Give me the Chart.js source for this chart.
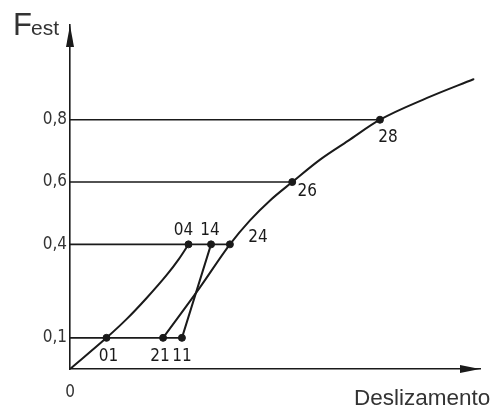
<!DOCTYPE html>
<html>
<head>
<meta charset="utf-8">
<script src="https://cdn.jsdelivr.net/npm/chart.js@4"></script>
<style>
  html, body { margin: 0; padding: 0; background: #fff; }
  #wrap { width: 493px; height: 410px; position: relative; }
</style>
</head>
<body>
<div id="wrap"><canvas id="slipChart"></canvas></div>
<script>
// rising branch 0 -> 01 -> 04
const curveAX = [0, 8.9, 13.8, 18.7, 23.6, 26.5, 28.9];
const curveAY = [0, 0.1, 0.16, 0.228, 0.302, 0.352, 0.4];
// main branch 21 -> 24 -> 26 -> 28 -> end
const curveBX = [22.7, 31.7, 39.0, 43.9, 48.8, 54.2, 61.0, 67.8, 75.6, 87.1, 98.4];
const curveBY = [0.1, 0.262, 0.4, 0.477, 0.541, 0.6, 0.672, 0.732, 0.8, 0.870, 0.930];
// unloading line 14 -> 11
const backX = [27.3, 34.4];
const backY = [0.1, 0.4];
// horizontal load levels and where they stop
const levels = [0.1, 0.4, 0.6, 0.8];
const levelEnds = [27.3, 39.0, 54.2, 75.6];
// marked points
const markNames = ['01', '21', '11', '04', '14', '24', '26', '28'];
const markX = [8.9, 22.7, 27.3, 28.9, 34.4, 39.0, 54.2, 75.6];
const markY = [0.1, 0.1, 0.1, 0.4, 0.4, 0.4, 0.6, 0.8];
const yTicks = [0.1, 0.4, 0.6, 0.8];
const xTicks = [0];

const ink = '#1a1a1a';
const digitFont = '"DejaVu Sans Condensed", "DejaVu Sans"';
const toPts = (xs, ys) => xs.map((x, i) => ({ x: x, y: ys[i] }));

const datasets = [];
levels.forEach((lv, i) => {
    datasets.push({
        data: [{ x: 0, y: lv }, { x: levelEnds[i], y: lv }],
        showLine: true, borderColor: ink, borderWidth: 1.6, pointRadius: 0, tension: 0
    });
});
datasets.push({
    data: toPts(curveAX, curveAY),
    showLine: true, borderColor: ink, borderWidth: 2, pointRadius: 0,
    cubicInterpolationMode: 'monotone'
});
datasets.push({
    data: toPts(curveBX, curveBY),
    showLine: true, borderColor: ink, borderWidth: 2, pointRadius: 0,
    cubicInterpolationMode: 'monotone'
});
datasets.push({
    data: toPts(backX, backY),
    showLine: true, borderColor: ink, borderWidth: 2, pointRadius: 0, tension: 0
});
datasets.push({
    data: toPts(markX, markY),
    showLine: false, pointRadius: 3.5, pointBackgroundColor: ink, pointBorderColor: ink
});

// label offsets (px) for each marked point
const labelOffsets = {
    '01': [2, 19], '21': [-3, 19], '11': [0, 19], '04': [-5, -14],
    '14': [-1, -14], '24': [28, -7], '26': [15, 10], '28': [8, 18]
};

const drawings = {
    id: 'drawings',
    afterDraw(chart) {
        const ctx = chart.ctx;
        const xs = chart.scales.x, ys = chart.scales.y;
        const a = chart.chartArea;
        ctx.save();
        ctx.fillStyle = ink;
        // arrow heads
        ctx.beginPath();
        ctx.moveTo(a.left, a.top);
        ctx.lineTo(a.left - 4, a.top + 22);
        ctx.lineTo(a.left + 4, a.top + 22);
        ctx.closePath();
        ctx.fill();
        ctx.beginPath();
        ctx.moveTo(a.right, a.bottom);
        ctx.lineTo(a.right - 20, a.bottom - 4);
        ctx.lineTo(a.right - 20, a.bottom + 4);
        ctx.closePath();
        ctx.fill();
        // point labels
        ctx.font = '17px ' + digitFont;
        ctx.textAlign = 'center';
        ctx.textBaseline = 'middle';
        markNames.forEach((n, i) => {
            const off = labelOffsets[n];
            ctx.fillText(n, xs.getPixelForValue(markX[i]) + off[0], ys.getPixelForValue(markY[i]) + off[1]);
        });
        // axis names
        ctx.fillStyle = '#333';
        ctx.textAlign = 'left';
        ctx.textBaseline = 'alphabetic';
        ctx.font = '31px "Liberation Sans", Arial';
        ctx.fillText('F', 13, 35);
        ctx.font = '21px "Liberation Sans", Arial';
        ctx.fillText('est', 31, 35);
        ctx.font = '22.5px "Liberation Sans", Arial';
        ctx.fillText('Deslizamento', 354, 405);
        ctx.restore();
    }
};

const config = {
    type: 'scatter',
    data: { datasets: datasets },
    options: {
        responsive: true,
        maintainAspectRatio: false,
        animation: false,
        layout: { padding: { top: 25, right: 13, left: 0, bottom: 0 } },
        plugins: { legend: false, tooltip: { enabled: false } },
        elements: { line: { borderCapStyle: 'round' } },
        scales: {
            x: {
                type: 'linear',
                min: 0, max: 100,
                afterFit: s => { s.height = 41; },
                afterBuildTicks: s => { s.ticks = xTicks.map(v => ({ value: v })); },
                grid: { display: false, drawTicks: false },
                border: { display: true, color: ink, width: 1.6 },
                ticks: {
                    padding: 13, color: '#333',
                    font: { family: digitFont, size: 17 },
                    callback: v => String(v)
                }
            },
            y: {
                type: 'linear',
                min: 0, max: 1.104,
                afterFit: s => { s.width = 70; },
                afterBuildTicks: s => { s.ticks = yTicks.map(v => ({ value: v })); },
                grid: { display: false, drawTicks: false },
                border: { display: true, color: ink, width: 1.6 },
                ticks: {
                    padding: 3, color: '#333',
                    font: { family: digitFont, size: 17 },
                    callback: v => String(v).replace('.', ',')
                }
            }
        }
    },
    plugins: [drawings]
};

const slipChart = new Chart(document.getElementById('slipChart'), config);
</script>
</body>
</html>
